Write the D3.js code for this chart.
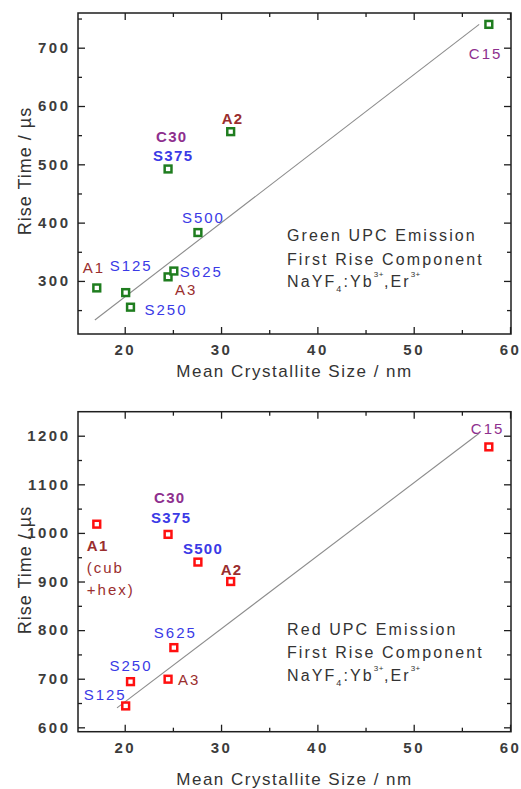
<!DOCTYPE html>
<html>
<head>
<meta charset="utf-8">
<script src="https://cdn.jsdelivr.net/npm/d3@7"></script>
<style>
  body { margin: 0; background: #fff; }
  svg { display: block; font-family: Arial, "Liberation Sans", sans-serif; }
</style>
</head>
<body>
<svg id="chart" width="521" height="789"></svg>
<script>
// Samples and their mean crystallite size (nm)
const samples = ["A1", "S125", "S250", "A3", "S625", "S500", "S375", "A2", "C15"];
const crystalliteSize = [17.1, 20.1, 20.6, 24.5, 25.1, 27.6, 24.5, 31.0, 57.8];

// First rise component of the green and red UPC emission (µs)
const greenRise = [288, 280, 255, 307, 317, 383, 492, 556, 740];
const redRise = [1018, 644, 694, 699, 764, 940, 997, 900, 1177];

// Linear trend lines (end points)
const greenFitSize = [16.9, 56.8];
const greenFitRise = [233, 740];
const redFitSize = [19.2, 56.8];
const redFitRise = [640, 1205];

// Axis ticks
const xTicks = [20, 30, 40, 50, 60];
const xMinorTicks = [25, 35, 45, 55];
const greenTicks = [300, 400, 500, 600, 700];
const greenMinorTicks = [250, 350, 450, 550, 650, 750];
const redTicks = [600, 700, 800, 900, 1000, 1100, 1200];
const redMinorTicks = [650, 750, 850, 950, 1050, 1150];

const colors = {
  A: "#9a2e2e",
  S: "#3a3ae6",
  C: "#8e2f8e",
  text: "#333",
  tick: "#3c3c3c",
  frame: "#1e1e1e",
  fit: "#8c8c8c"
};

// Sample annotations: label text, sample index, offset from the marker (px), weight
const greenLabels = [
  { text: "A1",   i: 0, dx: -14, dy: -15, bold: false },
  { text: "S125", i: 1, dx: -16, dy: -22, bold: false },
  { text: "S250", i: 2, dx: 14,  dy: 8,   bold: false },
  { text: "A3",   i: 3, dx: 7,   dy: 18,  bold: false },
  { text: "S625", i: 4, dx: 6,   dy: 6,   bold: false },
  { text: "S500", i: 5, dx: -16, dy: -10, bold: false },
  { text: "S375", i: 6, dx: -15, dy: -8,  bold: true },
  { text: "C30",  i: 6, dx: -12, dy: -27, bold: true },
  { text: "A2",   i: 7, dx: -9,  dy: -8,  bold: true },
  { text: "C15",  i: 8, dx: -20, dy: 35,  bold: false }
];
const redLabels = [
  { text: "A1",    i: 0, dx: -10, dy: 27,  bold: true },
  { text: "(cub",  i: 0, dx: -10, dy: 49,  bold: false, fam: "A" },
  { text: "+hex)", i: 0, dx: -10, dy: 71,  bold: false, fam: "A" },
  { text: "S125",  i: 1, dx: -42, dy: -6,  bold: false },
  { text: "S250",  i: 2, dx: -21, dy: -11, bold: false },
  { text: "A3",    i: 3, dx: 10,  dy: 6,   bold: false },
  { text: "S625",  i: 4, dx: -20, dy: -10, bold: false },
  { text: "S500",  i: 5, dx: -15, dy: -8,  bold: true },
  { text: "S375",  i: 6, dx: -17, dy: -11, bold: true },
  { text: "C30",   i: 6, dx: -14, dy: -31, bold: true },
  { text: "A2",    i: 7, dx: -10, dy: -7,  bold: true },
  { text: "C15",   i: 8, dx: -18, dy: -13, bold: false }
];

const panels = [
  {
    left: 78, right: 511, top: 13, bottom: 334,
    xDomain: [15.15, 60.1], yDomain: [209, 759.5],
    yTicks: greenTicks, yMinor: greenMinorTicks,
    values: greenRise, fitX: greenFitSize, fitY: greenFitRise,
    marker: "#1f7d1f", labels: greenLabels,
    xTitleY: 376.5, yTitleX: 30.5, yTitleY: 171,
    box: { x: 287, y: [241, 264.5, 287], title: "Green UPC Emission" }
  },
  {
    left: 78, right: 511, top: 411.7, bottom: 731.7,
    xDomain: [15.15, 60.1], yDomain: [591, 1249.4],
    yTicks: redTicks, yMinor: redMinorTicks,
    values: redRise, fitX: redFitSize, fitY: redFitRise,
    marker: "#ff1010", labels: redLabels,
    xTitleY: 785, yTitleX: 30.5, yTitleY: 570,
    box: { x: 287, y: [635, 658, 681], title: "Red UPC Emission" }
  }
];

const svg = d3.select("#chart");

function styleAxis(g, labelled) {
  g.select(".domain").remove();
  g.selectAll(".tick line").attr("stroke", colors.frame).attr("stroke-width", 1.3);
  if (labelled) {
    g.selectAll(".tick text")
      .attr("fill", colors.tick)
      .style("font-size", "15px")
      .style("font-weight", "bold")
      .style("letter-spacing", "2.5px");
  } else {
    g.selectAll(".tick text").remove();
  }
}

function drawPanel(p) {
  const g = svg.append("g");
  const x = d3.scaleLinear().domain(p.xDomain).range([p.left, p.right]);
  const y = d3.scaleLinear().domain(p.yDomain).range([p.bottom, p.top]);
  const fmt = d3.format("d");

  // Major and minor ticks on all four sides, pointing inward
  const sides = [
    { axis: d3.axisBottom, scale: x, t: `translate(0,${p.bottom})`, major: xTicks, minor: xMinorTicks, lab: true, pad: 10.5 },
    { axis: d3.axisTop, scale: x, t: `translate(0,${p.top})`, major: xTicks, minor: xMinorTicks, lab: false },
    { axis: d3.axisLeft, scale: y, t: `translate(${p.left},0)`, major: p.yTicks, minor: p.yMinor, lab: true, pad: 7.5 },
    { axis: d3.axisRight, scale: y, t: `translate(${p.right},0)`, major: p.yTicks, minor: p.yMinor, lab: false }
  ];
  sides.forEach(s => {
    g.append("g").attr("transform", s.t)
      .call(s.axis(s.scale).tickValues(s.major).tickSize(-7).tickPadding(s.pad || 3).tickFormat(fmt))
      .call(a => styleAxis(a, s.lab));
    g.append("g").attr("transform", s.t)
      .call(s.axis(s.scale).tickValues(s.minor).tickSize(-4).tickFormat(() => ""))
      .call(a => styleAxis(a, false));
  });

  // Plot frame
  g.append("rect")
    .attr("x", p.left).attr("y", p.top)
    .attr("width", p.right - p.left).attr("height", p.bottom - p.top)
    .attr("fill", "none").attr("stroke", colors.frame).attr("stroke-width", 1.5);

  // Trend line
  const fit = p.fitX.map((v, k) => [v, p.fitY[k]]);
  g.append("path")
    .datum(fit)
    .attr("d", d3.line().x(d => x(d[0])).y(d => y(d[1])))
    .attr("fill", "none").attr("stroke", colors.fit).attr("stroke-width", 1.1);

  // Open square markers
  const pts = samples.map((s, k) => ({ s, size: crystalliteSize[k], v: p.values[k] }));
  const m = 6.8;
  g.selectAll("rect.pt").data(pts).join("rect")
    .attr("class", "pt")
    .attr("x", d => x(d.size) - m / 2).attr("y", d => y(d.v) - m / 2)
    .attr("width", m).attr("height", m)
    .attr("fill", "#fff").attr("stroke", p.marker).attr("stroke-width", 2.5);

  // Sample labels
  g.selectAll("text.lab").data(p.labels).join("text")
    .attr("class", "lab")
    .attr("x", d => x(crystalliteSize[d.i]) + d.dx)
    .attr("y", d => y(p.values[d.i]) + d.dy)
    .attr("fill", d => colors[d.fam || d.text[0]])
    .style("font-size", "15px")
    .style("font-weight", d => d.bold ? "bold" : "normal")
    .style("letter-spacing", d => d.bold ? "1.3px" : "2px")
    .text(d => d.text);

  // Axis titles
  g.append("text")
    .attr("x", (p.left + p.right) / 2).attr("y", p.xTitleY)
    .attr("text-anchor", "middle").attr("fill", colors.text)
    .style("font-size", "17px").style("letter-spacing", "1.5px")
    .text("Mean Crystallite Size / nm");
  g.append("text")
    .attr("transform", `translate(${p.yTitleX},${p.yTitleY}) rotate(-90)`)
    .attr("text-anchor", "middle").attr("fill", colors.text)
    .style("font-size", "18px").style("letter-spacing", "1px")
    .text("Rise Time / µs");

  // Description block
  const b = p.box;
  const tb = g.append("g").attr("fill", colors.text)
    .style("font-size", "16px").style("letter-spacing", "2.1px");
  tb.append("text").attr("x", b.x).attr("y", b.y[0]).text(b.title);
  tb.append("text").attr("x", b.x).attr("y", b.y[1]).text("First Rise Component");
  const f = tb.append("text").attr("x", b.x).attr("y", b.y[2]);
  f.append("tspan").text("NaYF");
  f.append("tspan").attr("dy", 5).style("font-size", "9px").text("4");
  f.append("tspan").attr("dy", -5).text(":Yb");
  f.append("tspan").attr("dy", -10).style("font-size", "8px").style("letter-spacing", "0.5px").text("3+");
  f.append("tspan").attr("dy", 10).text(",Er");
  f.append("tspan").attr("dy", -10).style("font-size", "8px").style("letter-spacing", "0.5px").text("3+");
}

panels.forEach(drawPanel);
</script>
</body>
</html>
